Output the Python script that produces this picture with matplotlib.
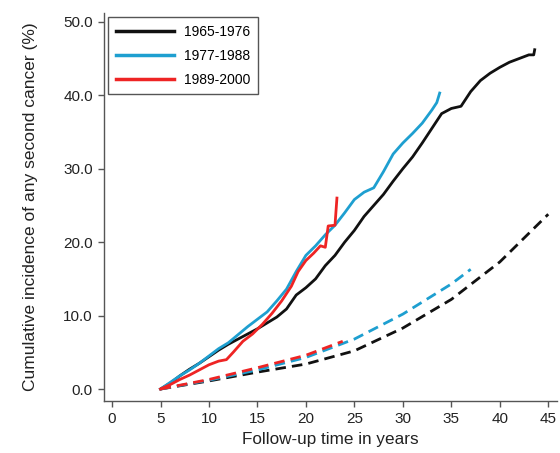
import matplotlib
matplotlib.use("Agg")
import matplotlib.pyplot as plt

plt.rcParams['font.family'] = ['Liberation Sans', 'DejaVu Sans']

# Observed cumulative incidence (solid) by treatment era
x_6576 = [5, 6, 7, 8, 9, 10, 11, 12, 13, 14, 15, 16, 17, 18, 19, 20, 21, 22, 23, 24,
          25, 26, 27, 28, 29, 30, 31, 32, 33, 34, 35, 36, 37, 38, 39, 40, 41, 42, 43, 43.5, 43.6]
y_6576 = [0, 0.8, 1.8, 2.7, 3.5, 4.4, 5.3, 6.1, 6.8, 7.5, 8.2, 9.0, 9.8, 10.9, 12.8, 13.8,
          15.0, 16.8, 18.2, 20.0, 21.6, 23.5, 25.0, 26.5, 28.3, 30.0, 31.6, 33.5, 35.5, 37.5,
          38.2, 38.5, 40.5, 42.0, 43.0, 43.8, 44.5, 45.0, 45.5, 45.5, 46.2]

x_7788 = [5, 6, 7, 8, 9, 10, 11, 12, 13, 14, 15, 16, 17, 18, 19, 20, 21, 22, 23, 24, 25,
          26, 27, 28, 29, 30, 31, 32, 33, 33.5, 33.8]
y_7788 = [0, 0.9, 1.8, 2.6, 3.5, 4.5, 5.5, 6.3, 7.4, 8.5, 9.5, 10.5, 12.0, 13.6, 16.0, 18.2,
          19.5, 21.0, 22.3, 24.0, 25.8, 26.8, 27.4, 29.6, 32.0, 33.5, 34.8, 36.2, 38.0, 39.0, 40.3]

x_8900 = [5, 6, 7, 8, 9, 10, 11, 11.8, 12.5, 13.5, 14.5, 15.5, 16.5, 17.5, 18.5, 19.2, 20,
          20.8, 21.5, 22.0, 22.3, 23.0, 23.2]
y_8900 = [0, 0.6, 1.3, 1.9, 2.6, 3.3, 3.8, 4.0, 5.0, 6.5, 7.5, 8.8, 10.3, 12.0, 14.0, 16.0,
          17.5, 18.5, 19.5, 19.3, 22.2, 22.3, 26.0]

# Expected cumulative incidence (dashed) from population rates
xe_6576 = [5, 10, 15, 20, 25, 30, 35, 40, 45]
ye_6576 = [0, 1.1, 2.3, 3.4, 5.2, 8.3, 12.2, 17.3, 23.8]

xe_7788 = [5, 10, 15, 20, 25, 30, 35, 37]
ye_7788 = [0, 1.2, 2.6, 4.3, 6.8, 10.2, 14.3, 16.3]

xe_8900 = [5, 10, 15, 20, 23.8]
ye_8900 = [0, 1.3, 2.9, 4.6, 6.5]

labels = ["1965-1976", "1977-1988", "1989-2000"]
colors = ["#111111", "#1e9fd0", "#ee2424"]

x_ticks = [0, 5, 10, 15, 20, 25, 30, 35, 40, 45]
y_ticks = [0, 10, 20, 30, 40, 50]

fig = plt.figure(figsize=(5.6, 4.53), dpi=100)
ax = fig.add_axes([0.1857, 0.1148, 0.8089, 0.8565])

lw = 2.0
observed = [(x_6576, y_6576), (x_7788, y_7788), (x_8900, y_8900)]
expected = [(xe_6576, ye_6576), (xe_7788, ye_7788), (xe_8900, ye_8900)]
for (xo, yo), (xe, ye), lab, col in zip(observed, expected, labels, colors):
    ax.plot(xe, ye, color=col, lw=lw, ls=(0, (3.8, 2.2)))
    ax.plot(xo, yo, color=col, lw=lw, label=lab)

ax.set_xlim(-0.83, 45.9)
ax.set_ylim(-1.63, 51.2)
ax.set_xticks(x_ticks)
ax.set_yticks(y_ticks)
ax.set_yticklabels([f"{v:.1f}" for v in y_ticks])

for s in ["top", "right"]:
    ax.spines[s].set_visible(False)
for s in ["left", "bottom"]:
    ax.spines[s].set_color("#555555")
    ax.spines[s].set_linewidth(1.0)
ax.tick_params(direction="out", length=4, width=1, color="#555555",
               labelsize=11, labelcolor="#222222", pad=4)

ax.set_xlabel("Follow-up time in years", fontsize=12.3, color="#222222", labelpad=4)
ax.set_ylabel("Cumulative incidence of any second cancer (%)", fontsize=12.5,
              color="#222222", labelpad=18)

leg = ax.legend(loc="upper left", bbox_to_anchor=(0.0, 1.0), borderaxespad=0.3,
                fontsize=10, handlelength=4.2, handletextpad=0.7, borderpad=0.55,
                labelspacing=0.72, fancybox=False, framealpha=1, edgecolor="#555555")
leg.get_frame().set_linewidth(1.0)
for h in leg.get_lines():
    h.set_linewidth(2.5)

fig.savefig("out.png", dpi=100)
